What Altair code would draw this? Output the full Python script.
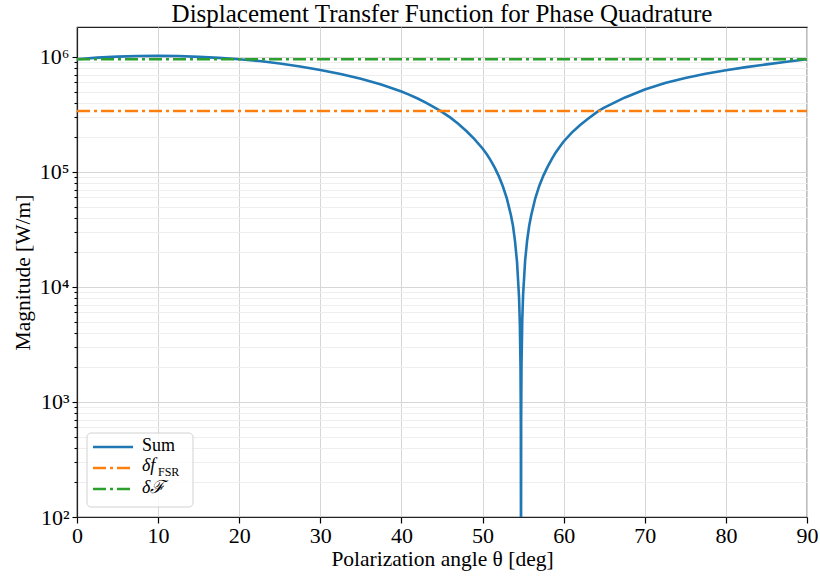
import altair as alt
import pandas as pd

# ---- data ----
theta_deg = [0, 2.5, 5, 7.5, 10, 12.5, 15, 17.5, 20, 22.5, 25, 27.5, 30, 32.5, 35,
             37.5, 40, 41, 42, 43, 44, 44.8, 46, 47, 48, 49, 50, 50.5, 51, 51.5, 52,
             52.5, 53, 53.5, 53.75, 54, 54.25, 54.5, 54.6, 54.68, 54.72, 54.74, 54.76,
             54.8, 54.9, 55, 55.25, 55.5, 55.75, 56, 56.5, 57, 57.5, 58, 58.5, 59,
             59.5, 60, 61, 62, 63, 64.3, 65, 67.5, 70, 72.5, 75, 77.5, 80, 82.5, 85,
             87.5, 90]
sum_mag = [9.55e5, 9.85e5, 1.005e6, 1.02e6, 1.025e6, 1.02e6, 1.0e6, 9.8e5, 9.55e5,
           9.2e5, 8.75e5, 8.25e5, 7.7e5, 7.1e5, 6.45e5, 5.75e5, 5.0e5, 4.68e5, 4.35e5,
           4.0e5, 3.66e5, 3.39e5, 2.98e5, 2.62e5, 2.27e5, 1.93e5, 1.6e5, 1.43e5,
           1.26e5, 1.09e5, 9.2e4, 7.5e4, 5.85e4, 4.2e4, 3.4e4, 2.5e4, 1.65e4, 8.1e3,
           4.7e3, 2.0e3, 6.6e2, 20, 6.8e2, 2.1e3, 5.3e3, 8.6e3, 1.7e4, 2.55e4, 3.4e4,
           4.2e4, 5.9e4, 7.6e4, 9.3e4, 1.1e5, 1.28e5, 1.47e5, 1.65e5, 1.84e5, 2.2e5,
           2.55e5, 2.9e5, 3.39e5, 3.62e5, 4.42e5, 5.2e5, 5.92e5, 6.55e5, 7.13e5,
           7.66e5, 8.15e5, 8.61e5, 9.08e5, 9.55e5]
const_theta = [0, 90]
fsr_mag = [3.39e5, 3.39e5]
finesse_mag = [9.55e5, 9.55e5]

x_ticks = list(range(0, 91, 10))
y_ticks = [m * 10 ** e for e in range(2, 7) for m in range(1, 10) if m * 10 ** e <= 1.8e6]

FONT = "Liberation Serif"
BLUE, ORANGE, GREEN = "#1f77b4", "#ff7f0e", "#2ca02c"
DASHDOT = [13, 4, 3, 4]

sum_df = pd.DataFrame({"theta": theta_deg, "mag": sum_mag})
fsr_df = pd.DataFrame({"theta": const_theta, "mag": fsr_mag})
fin_df = pd.DataFrame({"theta": const_theta, "mag": finesse_mag})

major_test = "abs(log(datum.value)/LN10 - round(log(datum.value)/LN10)) < 1e-6"

x_enc = alt.X(
    "theta:Q",
    scale=alt.Scale(domain=[0, 90], nice=False, zero=False),
    axis=alt.Axis(
        values=x_ticks, title="Polarization angle θ [deg]", grid=True,
        gridColor="#d6d6d6", gridWidth=1, tickSize=6, tickWidth=1.2,
        tickColor="#000", domainColor="#222", domainWidth=1.2,
        labelFont=FONT, labelFontSize=22, labelColor="#000", labelPadding=2,
        titleFont=FONT, titleFontSize=21.5, titleFontWeight="normal",
        titleColor="#000", titlePadding=2, labelFlush=False,
    ),
)
y_enc = alt.Y(
    "mag:Q",
    scale=alt.Scale(type="log", domain=[100, 1.82e6], nice=False),
    axis=alt.Axis(
        values=y_ticks, title="Magnitude [W/m]", grid=True,
        gridColor={"condition": {"test": major_test, "value": "#d6d6d6"}, "value": "#eeeeee"},
        tickSize={"condition": {"test": major_test, "value": 5}, "value": 3},
        tickColor="#000", tickWidth=1.1, domainColor="#222", domainWidth=1.2,
        labelExpr=("(" + major_test + ") ? '10' + "
                   "substring('⁰¹²³⁴⁵⁶⁷⁸⁹', round(log(datum.value)/LN10), round(log(datum.value)/LN10)+1) : ''"),
        labelFont=FONT, labelFontSize=22, labelColor="#000", labelPadding=3,
        titleFont=FONT, titleFontSize=21.5, titleFontWeight="normal",
        titleColor="#000", titlePadding=5, labelFlush=False, labelOverlap=False,
    ),
)

sum_line = alt.Chart(sum_df).mark_line(color=BLUE, strokeWidth=2.6, clip=True).encode(
    x=x_enc, y=y_enc)
fsr_line = alt.Chart(fsr_df).mark_line(color=ORANGE, strokeWidth=2.6, strokeDash=DASHDOT,
                                       clip=True).encode(x="theta:Q", y="mag:Q")
fin_line = alt.Chart(fin_df).mark_line(color=GREEN, strokeWidth=2.6, strokeDash=DASHDOT,
                                       clip=True).encode(x="theta:Q", y="mag:Q")

one = pd.DataFrame({"k": [0]})
leg_box = alt.Chart(one).mark_rect(fill="white", opacity=0.85, stroke="#cccccc",
                                   strokeWidth=1, cornerRadius=4).encode(
    x=alt.value(10), x2=alt.value(116), y=alt.value(406), y2=alt.value(480))
leg_sum = alt.Chart(one).mark_rule(color=BLUE, strokeWidth=2.6).encode(
    x=alt.value(16), x2=alt.value(56), y=alt.value(420))
leg_fsr = alt.Chart(one).mark_rule(color=ORANGE, strokeWidth=2.6, strokeDash=DASHDOT).encode(
    x=alt.value(16), x2=alt.value(56), y=alt.value(441))
leg_fin = alt.Chart(one).mark_rule(color=GREEN, strokeWidth=2.6, strokeDash=DASHDOT).encode(
    x=alt.value(16), x2=alt.value(56), y=alt.value(462))
txt = dict(font=FONT, fontSize=18, align="left", baseline="middle", color="#000")
leg_t1 = alt.Chart(one).mark_text(text="Sum", **txt).encode(x=alt.value(65), y=alt.value(419))
leg_t2 = alt.Chart(one).mark_text(text="δf", fontStyle="italic", **txt).encode(
    x=alt.value(65), y=alt.value(439))
leg_t2s = alt.Chart(one).mark_text(text="FSR", font=FONT, fontSize=12, align="left",
                                   baseline="middle", color="#000").encode(
    x=alt.value(81), y=alt.value(445))
leg_t3 = alt.Chart(one).mark_text(text="δℱ", fontStyle="italic", **txt).encode(
    x=alt.value(65), y=alt.value(461))

chart = alt.layer(
    sum_line, fsr_line, fin_line, leg_box, leg_sum, leg_fsr, leg_fin,
    leg_t1, leg_t2, leg_t2s, leg_t3,
).properties(
    width=730, height=490,
    title=alt.TitleParams("Displacement Transfer Function for Phase Quadrature",
                          font=FONT, fontSize=25, fontWeight="normal", color="#000",
                          anchor="middle", offset=0),
    autosize=alt.AutoSizeParams(type="none"),
    padding={"left": 77, "top": 27, "right": 13, "bottom": 62},
).configure_view(
    stroke="#222", strokeWidth=1.2
)

chart.save("out.html", embed_options={"renderer": "svg", "actions": False})
